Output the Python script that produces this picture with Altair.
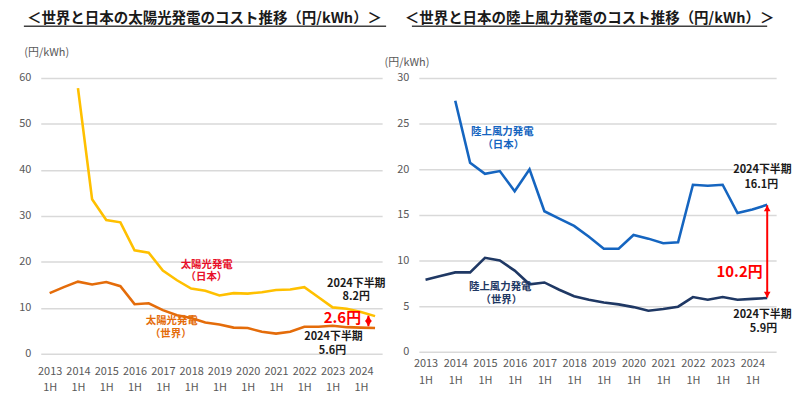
import altair as alt
import pandas as pd

FONT = "Noto Sans CJK JP"

# half-year periods: index 0 = 2013 1H ... index 23 = 2024 2H
period_idx = list(range(24))
first_year = 2013

solar_japan = [None, None, 57.8, 33.6, 29.1, 28.6, 22.5, 22.0, 18.1, 16.0, 14.2, 13.7,
               12.7, 13.2, 13.1, 13.4, 13.9, 14.0, 14.5, 12.3, 10.1, 9.8, 9.1, 8.2]
solar_world = [13.2, 14.5, 15.7, 15.1, 15.6, 14.7, 10.8, 11.0, 9.5, 8.4, 7.8, 6.8,
               6.4, 5.7, 5.6, 4.8, 4.4, 4.8, 5.9, 5.9, 6.1, 5.8, 5.7, 5.6]
wind_japan = [None, None, 27.5, 20.7, 19.5, 19.8, 17.6, 20.0, 15.4, 14.6, 13.8, 12.6,
              11.3, 11.3, 12.8, 12.4, 11.9, 12.0, 18.3, 18.2, 18.3, 15.2, 15.6, 16.1]
wind_world = [7.9, 8.3, 8.7, 8.7, 10.3, 10.0, 8.9, 7.4, 7.6, 6.8, 6.1, 5.7,
              5.4, 5.2, 4.9, 4.5, 4.7, 4.95, 6.0, 5.7, 6.0, 5.7, 5.8, 5.9]

left_title = "＜世界と日本の太陽光発電のコスト推移（円/kWh）＞"
right_title = "＜世界と日本の陸上風力発電のコスト推移（円/kWh）＞"
unit_label = "(円/kWh)"

# annotations: text, x index, y value, color, font size
left_notes = [
    ("太陽光発電", 11.1, 19.4, "#e8102a", 10.5),
    ("（日本）", 11.08, 16.6, "#e8102a", 10.5),
    ("太陽光発電", 8.63, 7.1, "#e46c0a", 10.5),
    ("（世界）", 8.56, 4.3, "#e46c0a", 10.5),
    ("2024下半期", 21.67, 15.2, "#1a1a1a", 11),
    ("8.2円", 21.67, 12.3, "#1a1a1a", 11),
    ("2.6円", 20.69, 7.8, "#ff0000", 15),
    ("2024下半期", 20.06, 3.6, "#1a1a1a", 11),
    ("5.6円", 19.99, 0.7, "#1a1a1a", 11),
]
right_notes = [
    ("陸上風力発電", 5.17, 24.1, "#1565c0", 10.5),
    ("（日本）", 5.23, 22.7, "#1565c0", 10.5),
    ("陸上風力発電", 5.03, 7.1, "#1f3864", 10.5),
    ("（世界）", 5.1, 5.7, "#1f3864", 10.5),
    ("2024下半期", 22.68, 19.9, "#1a1a1a", 11),
    ("16.1円", 22.6, 18.3, "#1a1a1a", 11),
    ("10.2円", 21.14, 8.7, "#ff0000", 15),
    ("2024下半期", 22.68, 4.0, "#1a1a1a", 11),
    ("5.9円", 22.75, 2.45, "#1a1a1a", 11),
]
# arrows: x index, low value, high value
left_arrow = (22.53, 6.0, 8.3)
right_arrow = (23.0, 5.95, 16.05)


def series_df(japan, world, jcol, wcol):
    rows = []
    for name, col, vals in (("japan", jcol, japan), ("world", wcol, world)):
        for i, v in zip(period_idx, vals):
            if v is not None:
                rows.append({"idx": i, "value": v, "series": name, "color": col})
    return pd.DataFrame(rows)


def panel(df, notes, arrow, xdom, ymax, ystep, w, h, title, title_cx,
          ul_x1, ul_x2, unit_x, unit_y, lab_pad, lab_lh):
    xs = alt.Scale(domain=xdom, nice=False, zero=False)
    ys = alt.Scale(domain=[0, ymax], nice=False)
    x_axis = alt.Axis(values=list(range(0, 24, 2)),
                      labelExpr=f"[toString({first_year} + datum.value / 2), '1H']",
                      grid=False, ticks=False, domain=False, labelOverlap=False,
                      labelFlush=False, labelBound=False,
                      labelFont=FONT, labelFontSize=11, labelColor="#595959",
                      labelLineHeight=lab_lh, labelPadding=lab_pad, title=None)
    y_axis = alt.Axis(values=list(range(0, ymax + 1, ystep)), grid=True,
                      gridColor="#d9d9d9", gridWidth=1.5, ticks=False, domain=False,
                      labelFont=FONT, labelFontSize=11, labelColor="#595959",
                      labelPadding=10, minExtent=22, maxExtent=22,
                      title=unit_label, titleAngle=0, titleAlign="left",
                      titleBaseline="middle", titleX=unit_x, titleY=unit_y,
                      titleFont=FONT, titleFontSize=11, titleFontWeight="normal",
                      titleColor="#595959")
    X = lambda f: alt.X(f, type="quantitative", scale=xs, axis=x_axis)
    Y = lambda f: alt.Y(f, type="quantitative", scale=ys, axis=y_axis)
    lines = alt.Chart(df).mark_line(strokeWidth=2.6).encode(
        x=X("idx"), y=Y("value"),
        color=alt.Color("color:N", scale=None),
        detail="series:N",
    )
    ndf = pd.DataFrame(notes, columns=["text", "x", "y", "color", "size"])
    texts = alt.Chart(ndf).mark_text(font=FONT, fontWeight="bold", baseline="middle",
                                     align="center").encode(
        x=X("x"), y=Y("y"), text="text:N",
        color=alt.Color("color:N", scale=None), size=alt.Size("size:Q", scale=None))
    adf = pd.DataFrame([{"x": arrow[0], "lo": arrow[1], "hi": arrow[2]}])
    rule = alt.Chart(adf).mark_rule(color="#ff0000", strokeWidth=2).encode(
        x=X("x"), y=Y("lo"), y2="hi:Q")
    up = alt.Chart(adf).mark_point(shape="triangle-up", filled=True, color="#ff0000",
                                   size=45, opacity=1, yOffset=3).encode(
        x=X("x"), y=Y("hi"))
    down = alt.Chart(adf).mark_point(shape="triangle-down", filled=True, color="#ff0000",
                                     size=45, opacity=1, yOffset=-3).encode(
        x=X("x"), y=Y("lo"))
    tdf = pd.DataFrame([{"t": title}])
    ttl = alt.Chart(tdf).mark_text(font=FONT, fontWeight="bold", fontSize=14.6,
                                   color="#1a1a1a", baseline="middle").encode(
        text="t:N", x=alt.value(title_cx), y=alt.value(-59))
    ul = alt.Chart(tdf).mark_rule(color="#404040", strokeWidth=1.5).encode(
        x=alt.value(ul_x1), x2=alt.value(ul_x2), y=alt.value(-52))
    return alt.layer(lines, texts, rule, up, down, ttl, ul).properties(width=w, height=h)


left_df = series_df(solar_japan, solar_world, "#ffc000", "#e46c0a")
right_df = series_df(wind_japan, wind_world, "#1565c0", "#1f3864")

left = panel(left_df, left_notes, left_arrow, [-0.63, 23.5], 60, 10, 344, 278,
             left_title, 165, -17, 348, -17, -26, 12, 16)
right = panel(right_df, right_notes, right_arrow, [-0.45, 23.6], 30, 5, 360, 276,
              right_title, 172, -7, 351, -35, -16, 6, 17)

chart = alt.hconcat(left, right, spacing=37, bounds="flush").configure_view(
    stroke=None).configure_axis(labelOverlap=False).properties(
    padding={"left": 10, "top": 2, "right": 0, "bottom": 0}, background="white")

chart.save("out.html", embed_options={"renderer": "svg", "actions": False})
